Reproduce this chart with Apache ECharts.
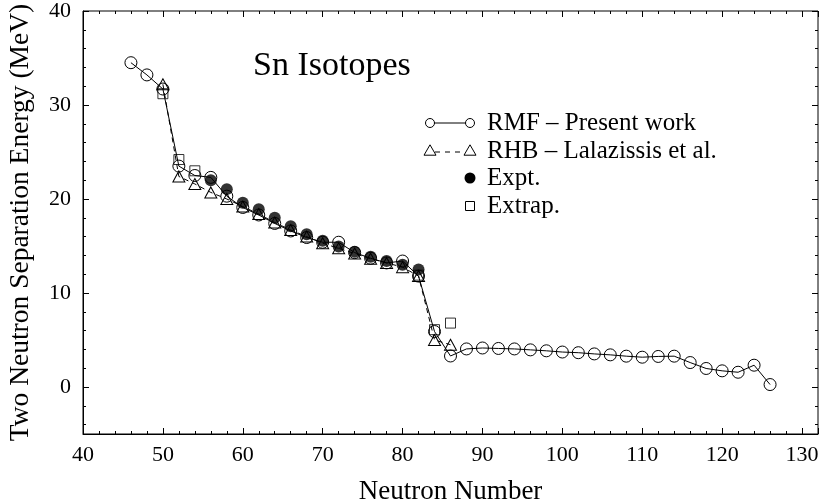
<!DOCTYPE html>
<html>
<head>
<meta charset="utf-8">
<script src="https://cdn.jsdelivr.net/npm/echarts@6/dist/echarts.min.js"></script>
<style>
  html, body { margin: 0; padding: 0; background: #fff; }
  #chart { width: 823px; height: 501px; }
</style>
</head>
<body>
<div id="chart"></div>
<script>
// RMF - present work
const rmfN = [46, 48, 50, 52, 54, 56, 58, 60, 62, 64, 66, 68, 70, 72, 74, 76, 78, 80, 82, 84, 86,
  88, 90, 92, 94, 96, 98, 100, 102, 104, 106, 108, 110, 112, 114, 116, 118, 120, 122, 124, 126];
const rmfE = [34.5, 33.2, 31.7, 23.5, 22.5, 22.3, 20.3, 19.1, 18.3, 17.4, 16.6, 15.9, 15.4, 15.4, 14.3, 13.7, 13.2, 13.4, 11.8, 5.9, 3.3,
  4.05, 4.15, 4.1, 4.05, 3.95, 3.85, 3.72, 3.65, 3.52, 3.42, 3.28, 3.17, 3.25, 3.28, 2.6, 1.97, 1.72, 1.57, 2.32, 0.26];

// RHB - Lalazissis et al.
const rhbN = [50, 52, 54, 56, 58, 60, 62, 64, 66, 68, 70, 72, 74, 76, 78, 80, 82, 84, 86];
const rhbE = [32.2, 22.4, 21.6, 20.7, 20.0, 19.2, 18.4, 17.5, 16.7, 16.0, 15.3, 14.75, 14.2, 13.65, 13.2, 12.75, 11.8, 5.0, 4.5];

// experiment
const exptN = [56, 58, 60, 62, 64, 66, 68, 70, 72, 74, 76, 78, 80, 82];
const exptE = [22.0, 21.05, 19.6, 18.9, 18.0, 17.1, 16.25, 15.55, 14.95, 14.4, 13.85, 13.4, 13.0, 12.5];

// extrapolated
const extrapN = [50, 52, 54, 82, 84, 86];
const extrapE = [31.2, 24.2, 23.0, 11.9, 6.1, 6.8];

const xRange = [40, 132];
const yRange = [-5, 40];
const xTicks = ['40', '50', '60', '70', '80', '90', '100', '110', '120', '130'];

const serif = '"Liberation Serif", "Times New Roman", serif';
const pairs = (xs, ys) => xs.map((x, i) => [x, ys[i]]);

// major ticks on grid 0, minor ticks on grid 1 (so that -5 and 132 do not break the steps)
const xAxis = (gridIndex, position, interval, len, labels) => ({
  type: 'value',
  gridIndex,
  position,
  min: xRange[0],
  max: xRange[1],
  interval,
  splitLine: { show: false },
  axisLine: { show: labels, onZero: false, lineStyle: { color: '#000', width: 1 } },
  axisTick: { inside: true, length: len, lineStyle: { color: '#000', width: 1 } },
  axisLabel: {
    show: labels,
    margin: 10,
    color: '#000',
    fontFamily: serif,
    fontSize: 22,
    formatter: (v) => (xTicks.includes(String(v)) ? String(v) : ''),
  },
  name: labels ? 'Neutron Number' : '',
  nameLocation: 'middle',
  nameGap: 44,
  nameTextStyle: { color: '#000', fontFamily: serif, fontSize: 27 },
});

const yAxis = (gridIndex, position, splitNumber, len, labels) => ({
  type: 'value',
  gridIndex,
  position,
  min: yRange[0],
  max: yRange[1],
  splitNumber,
  splitLine: { show: false },
  axisLine: { show: labels, onZero: false, lineStyle: { color: '#000', width: 1 } },
  axisTick: { inside: true, length: len, lineStyle: { color: '#000', width: 1 } },
  axisLabel: {
    show: labels,
    margin: 12,
    color: '#000',
    fontFamily: serif,
    fontSize: 22,
    formatter: (v) => (v % 10 === 0 ? String(v) : ''),
  },
  name: labels ? 'Two Neutron Separation Energy (MeV)' : '',
  nameLocation: 'middle',
  nameGap: 48,
  nameTextStyle: { color: '#000', fontFamily: serif, fontSize: 27.5 },
});

const grid = { left: 83, right: 5, top: 11, bottom: 67, outerBoundsMode: 'none', containLabel: false };

const hollow = { color: 'rgba(0,0,0,0)', borderColor: '#000', borderWidth: 1 };

// legend drawn by hand: symbol - line - symbol, like the original
const lx1 = 430, lx2 = 470, tx = 487;
const rows = [123, 151, 178, 206];
const tri = (cx, cy, s) => [[cx, cy - s * 0.62], [cx - s * 0.6, cy + s * 0.42], [cx + s * 0.6, cy + s * 0.42]];
const legendText = (t, y) => ({
  type: 'text',
  style: { text: t, x: tx, y, fill: '#000', font: '25px ' + serif, verticalAlign: 'middle' },
});
const stroke = { fill: 'none', stroke: '#000', lineWidth: 1 };

const graphic = [
  { type: 'line', shape: { x1: lx1 + 4, y1: rows[0], x2: lx2 - 4, y2: rows[0] }, style: stroke },
  { type: 'circle', shape: { cx: lx1, cy: rows[0], r: 4.5 }, style: stroke },
  { type: 'circle', shape: { cx: lx2, cy: rows[0], r: 4.5 }, style: stroke },
  legendText('RMF – Present work', rows[0]),
  { type: 'line', shape: { x1: lx1 + 5, y1: rows[1] + 1, x2: lx2 - 5, y2: rows[1] + 1 }, style: { ...stroke, lineDash: [5, 5] } },
  { type: 'polygon', shape: { points: tri(lx1, rows[1], 10) }, style: stroke },
  { type: 'polygon', shape: { points: tri(lx2, rows[1], 10) }, style: stroke },
  legendText('RHB – Lalazissis et al.', rows[1]),
  { type: 'circle', shape: { cx: lx2, cy: rows[2], r: 5.5 }, style: { fill: '#000' } },
  legendText('Expt.', rows[2]),
  { type: 'rect', shape: { x: lx2 - 4.5, y: rows[3] - 4.5, width: 9, height: 9 }, style: stroke },
  legendText('Extrap.', rows[3]),
];

const chart = echarts.init(document.getElementById('chart'), null, { renderer: 'canvas' });

chart.setOption({
  backgroundColor: '#fff',
  animation: false,
  title: {
    text: 'Sn Isotopes',
    left: 253,
    top: 49,
    padding: 0,
    textStyle: { color: '#000', fontFamily: serif, fontSize: 34, fontWeight: 'normal', lineHeight: 34 },
  },
  grid: [
    { ...grid, show: true, borderColor: '#000', borderWidth: 1, backgroundColor: 'transparent' },
    { ...grid },
  ],
  xAxis: [
    xAxis(0, 'bottom', 10, 6, true),
    xAxis(0, 'top', 10, 6, false),
    xAxis(1, 'bottom', 2, 3, false),
    xAxis(1, 'top', 2, 3, false),
  ],
  yAxis: [
    yAxis(0, 'left', 5, 6, true),
    yAxis(0, 'right', 5, 6, false),
    yAxis(1, 'left', 22, 3, false),
    yAxis(1, 'right', 22, 3, false),
  ],
  graphic,
  series: [
    {
      name: 'RHB - Lalazissis et al.',
      type: 'line',
      data: pairs(rhbN, rhbE),
      symbol: 'triangle',
      symbolSize: [12, 11],
      itemStyle: hollow,
      lineStyle: { color: '#000', width: 1, type: [5, 4] },
      z: 2,
    },
    {
      name: 'RMF - Present work',
      type: 'line',
      data: pairs(rmfN, rmfE),
      symbol: 'circle',
      symbolSize: 12,
      itemStyle: hollow,
      lineStyle: { color: '#000', width: 1 },
      z: 3,
    },
    {
      name: 'Extrap.',
      type: 'scatter',
      data: pairs(extrapN, extrapE),
      symbol: 'rect',
      symbolSize: 10,
      itemStyle: hollow,
      z: 4,
    },
    {
      name: 'Expt.',
      type: 'scatter',
      data: pairs(exptN, exptE),
      symbol: 'circle',
      symbolSize: 12,
      itemStyle: { color: '#000' },
      z: 5,
    },
  ],
});
</script>
</body>
</html>
